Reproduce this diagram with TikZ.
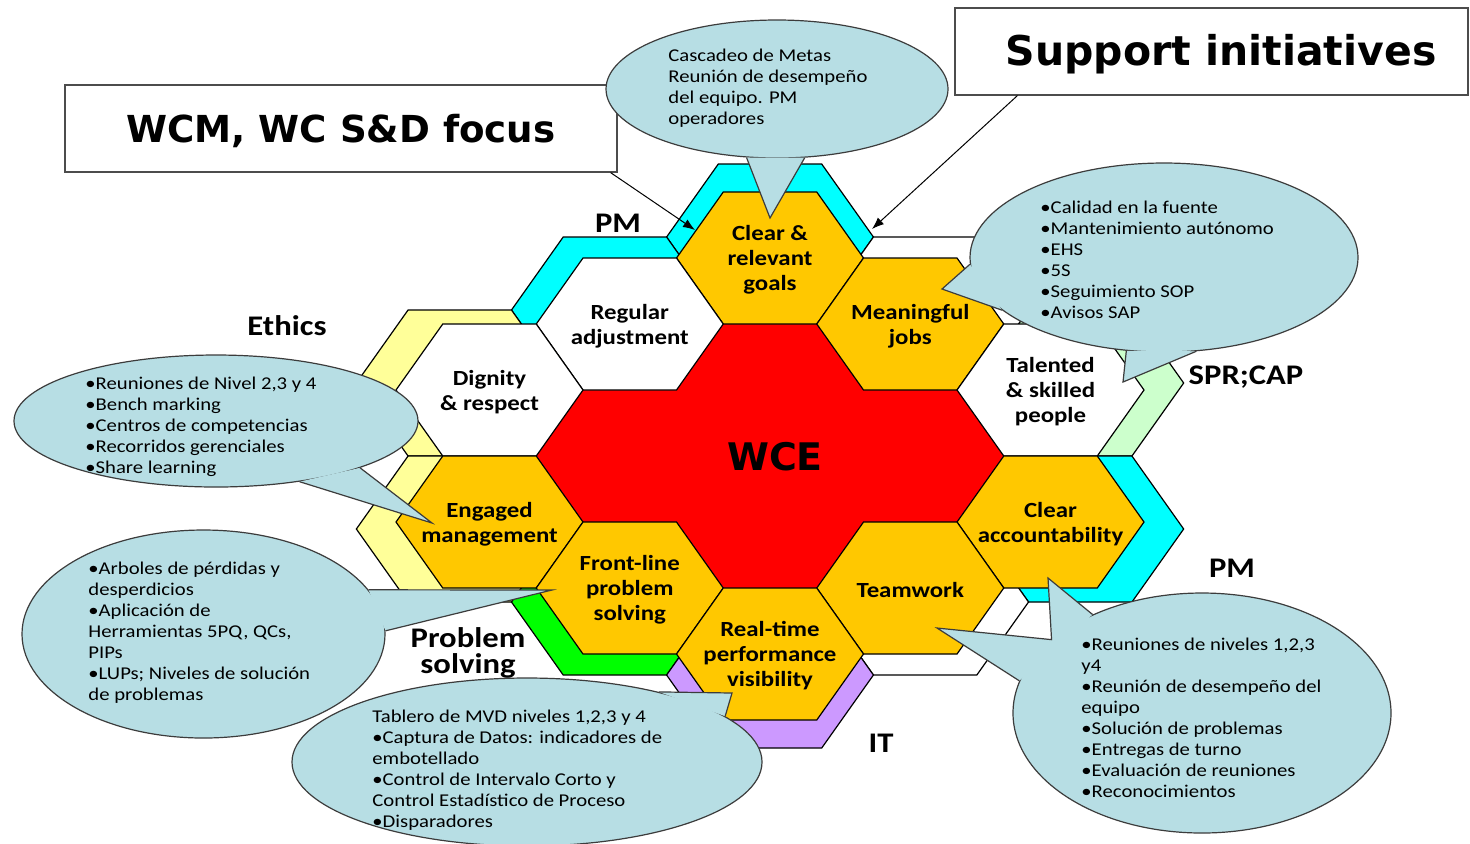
\documentclass[tikz,border=0pt]{standalone}
\usepackage{fontspec}
\setmainfont{Carlito}[FakeStretch=1.15]
\newfontfamily\headfont{DejaVu Sans}
\usetikzlibrary{arrows.meta,shapes.geometric}

\definecolor{gold}{RGB}{255,200,0}
\definecolor{pmcyan}{RGB}{0,255,255}
\definecolor{ethyellow}{RGB}{255,255,153}
\definecolor{psgreen}{RGB}{0,255,0}
\definecolor{itviolet}{RGB}{204,153,255}
\definecolor{sprgreen}{RGB}{204,255,204}
\definecolor{bubblefill}{RGB}{183,222,228}
\definecolor{bubbleline}{RGB}{60,60,60}

\newcommand\hexa{93.5}
\newcommand\hexb{66}
\newcommand\hexcell[3]{%
  \path[hex,#3,shift={(#1,#2)}] (-\hexa,0) -- (-0.5*\hexa,-\hexb) -- (0.5*\hexa,-\hexb)
    -- (\hexa,0) -- (0.5*\hexa,\hexb) -- (-0.5*\hexa,\hexb) -- cycle;}

\begin{document}
\begin{tikzpicture}[x=0.5pt, y=-0.5pt,
    hex/.style={draw=black, line width=0.6pt},
    hexlabel/.style={align=center, inner sep=0pt, font=\bfseries\fontsize{10.8}{12.5}\selectfont},
    bandlabel/.style={align=center, inner sep=0pt, font=\bfseries\fontsize{14.2}{13}\selectfont},
    titlebox/.style={draw=black!70, line width=0.6pt, fill=white, minimum width=#1, minimum height=43.5pt},
    titletext/.style={inner sep=0pt, font=\headfont\bfseries\fontsize{#1}{24}\selectfont},
    pointer/.style={line width=0.5pt, -{Latex[length=6pt,width=4.5pt]}},
    bubble/.style={ellipse, draw=bubbleline, fill=bubblefill, line width=0.6pt, inner sep=0pt},
    tail/.style={draw=bubbleline, fill=bubblefill, line width=0.6pt},
    notetext/.style={align=left, anchor=west, inner sep=0pt, font=\fontsize{9}{10.5}\selectfont}]
  \useasboundingbox (0,0) rectangle (1470,843);
  \fill[white] (0,0) rectangle (1470,843);

  \begin{scope}[shift={(770,456)}]
    \begin{scope}[scale=1.106]
      \foreach \px/\py/\col in {0/-198/pmcyan, -140.25/-132/pmcyan, 140.25/-132/white,
          -280.5/-66/ethyellow, 280.5/-66/sprgreen, -280.5/66/ethyellow, 280.5/66/pmcyan,
          -140.25/132/psgreen, 140.25/132/white, 0/198/itviolet}
        \hexcell{\px}{\py}{fill=\col};
    \end{scope}
    \fill[red] (-2.5*\hexa,0) -- (-2*\hexa,-\hexb) -- (-\hexa,-\hexb) -- (-0.5*\hexa,-2*\hexb)
      -- (0.5*\hexa,-2*\hexb) -- (\hexa,-\hexb) -- (2*\hexa,-\hexb) -- (2.5*\hexa,0)
      -- (2*\hexa,\hexb) -- (\hexa,\hexb) -- (0.5*\hexa,2*\hexb) -- (-0.5*\hexa,2*\hexb)
      -- (-\hexa,\hexb) -- (-2*\hexa,\hexb) -- cycle;
    \foreach \px/\py/\col in {0/-198/gold, -140.25/-132/white, 140.25/-132/gold,
        -280.5/-66/white, 280.5/-66/white, -280.5/66/gold, 280.5/66/gold,
        -140.25/132/gold, 140.25/132/gold, 0/198/gold}
      \hexcell{\px}{\py}{fill=\col};

    \node[hexlabel] (goals) at (0,-196) {Clear \&\\relevant\\goals};
    \node[hexlabel] (regular) at (-140.25,-130) {Regular\\adjustment};
    \node[hexlabel] (jobs) at (140.25,-130) {Meaningful\\jobs};
    \node[hexlabel] (dignity) at (-280.5,-64) {Dignity\\\& respect};
    \node[hexlabel] (talent) at (280.5,-64) {Talented\\\& skilled\\people};
    \node[hexlabel] (engaged) at (-280.5,68) {Engaged\\management};
    \node[hexlabel] (account) at (280.5,68) {Clear\\accountability};
    \node[hexlabel] (frontline) at (-140.25,134) {Front-line\\problem\\solving};
    \node[hexlabel] (teamwork) at (140.25,134) {Teamwork};
    \node[hexlabel] (realtime) at (0,200) {Real-time\\performance\\visibility};
    \node[font=\headfont\bfseries\fontsize{19}{22}\selectfont] (wce) at (5,1) {WCE};
  \end{scope}

  \node[bandlabel] (pmtop) at (618,223) {PM};
  \node[bandlabel] (ethics) at (287,326) {Ethics};
  \node[bandlabel] (sprcap) at (1246,377) {SPR;CAP};
  \node[bandlabel] (pmright) at (1232,568) {PM};
  \node[bandlabel] (probsolv) at (468,653) {Problem\\solving};
  \node[bandlabel] (itlabel) at (881,743) {IT};

  \node[titlebox=276pt] (focusbox) at (341,128.5) {};
  \node[titletext=18.6] (focustitle) at (341,131) {WCM, WC S\&D focus};
  \node[titlebox=256.5pt] (supportbox) at (1211.5,51.5) {};
  \node[titletext=20.5] (supporttitle) at (1221,54) {Support initiatives};
  \coordinate (goalsleft) at (695,230);
  \coordinate (goalsright) at (872,229);
  \draw[pointer] ([xshift=-3.5pt]focusbox.south east) -- (goalsleft);
  \draw[pointer] ([xshift=31.5pt]supportbox.south west) -- (goalsright);

  \node[bubble, minimum width=171pt, minimum height=69pt] (goalsnote) at (777,89) {};
  \coordinate (goalstip) at (770,218);
  \path[tail] (goalsnote.246) -- (goalstip) -- (goalsnote.292);
  \node[notetext] at (668,88.5) {Cascadeo de Metas\\Reunión de desempeño\\del equipo. PM\\operadores};

  \node[bubble, minimum width=194pt, minimum height=94.5pt] (skillnote) at (1164,257.5) {};
  \coordinate (jobstip) at (942,289);
  \coordinate (talenttip) at (1123,382);
  \path[tail] (skillnote.182) -- (jobstip) -- (skillnote.198);
  \path[tail] (skillnote.248) -- (talenttip) -- (skillnote.289);
  \node[notetext] at (1040,259.5) {•Calidad en la fuente\\•Mantenimiento autónomo\\•EHS\\•5S\\•Seguimiento SOP\\•Avisos SAP};

  \node[bubble, minimum width=202pt, minimum height=66pt] (ethicsnote) at (216,421) {};
  \coordinate (engagedtip) at (432,523);
  \path[tail] (ethicsnote.324) -- (engagedtip) -- (ethicsnote.342);
  \node[notetext] at (85,427) {•Reuniones de Nivel 2,3 y 4\\•Bench marking\\•Centros de competencias\\•Recorridos gerenciales\\•Share learning};

  \node[bubble, minimum width=181.5pt, minimum height=104pt] (psnote) at (203.5,634) {};
  \coordinate (frontlinetip) at (552,590);
  \path[tail] (psnote.15) -- (frontlinetip) -- (psnote.1);
  \node[notetext] at (88,633) {•Arboles de pérdidas y\\desperdicios\\•Aplicación de\\Herramientas 5PQ, QCs,\\PIPs\\•LUPs; Niveles de solución\\de problemas};

  \node[bubble, minimum width=235pt, minimum height=84pt] (rtnote) at (527,762) {};
  \coordinate (realtimetip) at (732,693);
  \path[tail] (rtnote.28) -- (realtimetip) -- (rtnote.13);
  \node[notetext] at (372,770.5) {Tablero de MVD niveles 1,2,3 y 4\\•Captura de Datos: indicadores de\\embotellado\\•Control de Intervalo Corto y\\Control Estadístico de Proceso\\•Disparadores};

  \node[bubble, minimum width=189pt, minimum height=120pt] (teamnote) at (1202,713) {};
  \coordinate (accounttip) at (1048,578);
  \coordinate (teamtip) at (937,628);
  \path[tail] (teamnote.138) -- (accounttip) -- (teamnote.154) -- (teamtip) -- (teamnote.170);
  \node[notetext] at (1081,717.5) {•Reuniones de niveles 1,2,3\\y4\\•Reunión de desempeño del\\equipo\\•Solución de problemas\\•Entregas de turno\\•Evaluación de reuniones\\•Reconocimientos};
\end{tikzpicture}
\end{document}
